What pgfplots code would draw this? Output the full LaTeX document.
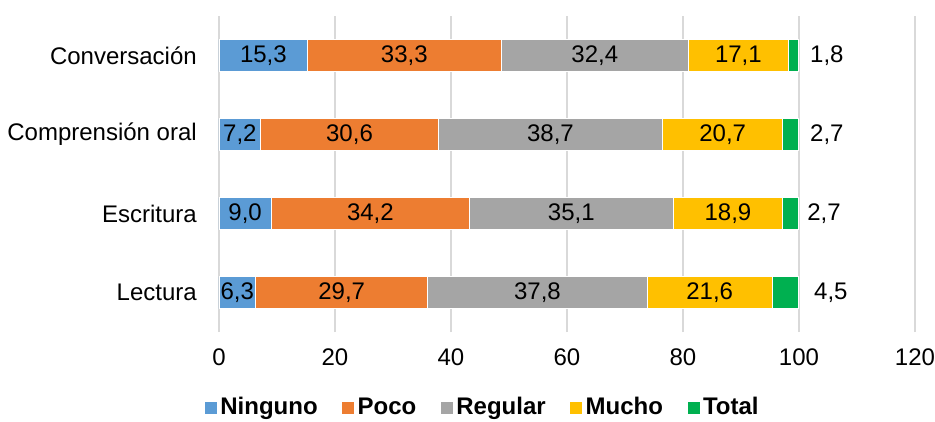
\documentclass[border=0pt]{standalone}
\usepackage{fontspec}
\setmainfont{Liberation Sans}
\usepackage{pgfplots}
\pgfplotsset{compat=1.18}
\definecolor{ninguno}{HTML}{5B9BD5}
\definecolor{poco}{HTML}{ED7D31}
\definecolor{regular}{HTML}{A5A5A5}
\definecolor{mucho}{HTML}{FFC000}
\definecolor{total}{HTML}{00B050}
\definecolor{gridgray}{HTML}{D9D9D9}
\begin{document}
\fontsize{24}{28}\selectfont
\begin{tikzpicture}
\begin{axis}[
    at={(0,0)}, anchor=south west,
    scale only axis, width=696pt, height=316pt,
    xbar stacked, bar width=32pt,
    xmin=0, xmax=120, ymin=-0.5, ymax=3.5,
    xtick={0,20,...,120}, ytick={0,1,2,3},
    yticklabels={Lectura,Escritura,Comprensión oral,Conversación},
    xmajorgrids, ymajorgrids=false,
    major grid style={draw=gridgray, line width=1.5pt},
    axis line style={draw=none}, tick style={draw=none},
    /pgf/number format/assume math mode=true,
    xticklabel style={inner sep=0pt, yshift=-17pt},
    yticklabel style={inner sep=0pt, xshift=-22pt},
    legend columns=-1,
    legend image code/.code={\fill[#1,draw=none] (0pt,-6pt) rectangle (12pt,6pt);},
    legend style={at={(0.38,-0.24)}, anchor=center, draw=none, fill=none,
        font=\bfseries, inner sep=0pt, nodes={inner sep=3.5pt},
        /tikz/every even column/.append style={column sep=21pt}},
]
% y: 0 Lectura, 1 Escritura, 2 Comprension oral, 3 Conversacion
\addplot[fill=ninguno, draw=white, line width=0.75pt] coordinates {(6.3,0) (9.0,1) (7.2,2) (15.3,3)};
\addplot[fill=poco, draw=white, line width=0.75pt] coordinates {(29.7,0) (34.2,1) (30.6,2) (33.3,3)};
\addplot[fill=regular, draw=white, line width=0.75pt] coordinates {(37.8,0) (35.1,1) (38.7,2) (32.4,3)};
\addplot[fill=mucho, draw=white, line width=0.75pt] coordinates {(21.6,0) (18.9,1) (20.7,2) (17.1,3)};
\addplot[fill=total, draw=white, line width=0.75pt] coordinates {(4.5,0) (2.7,1) (2.7,2) (1.8,3)};
\legend{Ninguno,Poco,Regular,Mucho,Total}

% anchor points for the value labels
\coordinate (a3) at (axis cs:7.65,3);
\coordinate (b3) at (axis cs:31.95,3);
\coordinate (c3) at (axis cs:64.8,3);
\coordinate (d3) at (axis cs:89.55,3);
\coordinate (e3) at (axis cs:104.8,3);
\coordinate (a2) at (axis cs:3.6,2);
\coordinate (b2) at (axis cs:22.5,2);
\coordinate (c2) at (axis cs:57.15,2);
\coordinate (d2) at (axis cs:86.85,2);
\coordinate (e2) at (axis cs:104.8,2);
\coordinate (a1) at (axis cs:4.5,1);
\coordinate (b1) at (axis cs:26.1,1);
\coordinate (c1) at (axis cs:60.75,1);
\coordinate (d1) at (axis cs:87.75,1);
\coordinate (e1) at (axis cs:104.3,1);
\coordinate (a0) at (axis cs:3.15,0);
\coordinate (b0) at (axis cs:21.15,0);
\coordinate (c0) at (axis cs:54.9,0);
\coordinate (d0) at (axis cs:84.6,0);
\coordinate (e0) at (axis cs:105.5,0);
\end{axis}
\node at (a3) {15,3}; \node at (b3) {33,3}; \node at (c3) {32,4}; \node at (d3) {17,1}; \node at (e3) {1,8};
\node at (a2) {7,2};  \node at (b2) {30,6}; \node at (c2) {38,7}; \node at (d2) {20,7}; \node at (e2) {2,7};
\node at (a1) {9,0};  \node at (b1) {34,2}; \node at (c1) {35,1}; \node at (d1) {18,9}; \node at (e1) {2,7};
\node at (a0) {6,3};  \node at (b0) {29,7}; \node at (c0) {37,8}; \node at (d0) {21,6}; \node at (e0) {4,5};
\pgfresetboundingbox
\path[use as bounding box] (-219pt,-89pt) rectangle (716pt,332pt);
\end{tikzpicture}
\end{document}
